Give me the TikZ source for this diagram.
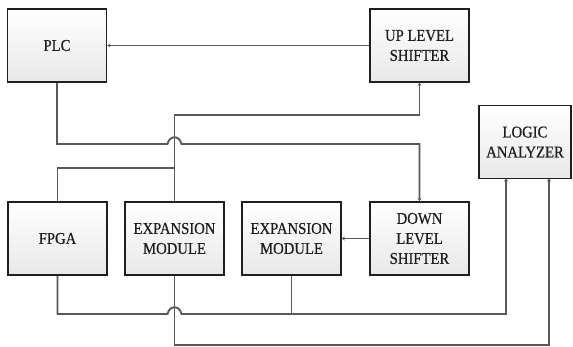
\documentclass[tikz,border=0pt]{standalone}
\usepackage{fontspec}
\newfontfamily\boxfont[FakeStretch=0.89,FakeBold=0.6]{Liberation Serif}
\usetikzlibrary{arrows.meta,calc}
\begin{document}
\begin{tikzpicture}[x=1pt,y=-1pt,
  blk/.style={draw=black!88,line width=1.7pt,top color=white,bottom color=black!9,
    minimum width=99pt,minimum height=73pt,inner sep=0pt,align=center,
    font=\boxfont\fontsize{16.5}{20}\selectfont,text=black!88},
  wire/.style={draw=black!65,line width=1.9pt},
  arr/.style={wire,-{Stealth[length=3pt,width=4pt]}}]
\useasboundingbox (0,0) rectangle (573,347);
\node[blk] (plc)  at (57,45.5)    {PLC};
\node[blk] (up)   at (419.5,45.5) {UP LEVEL\\SHIFTER};
\node[blk,minimum width=92pt] (la) at (525,142) {LOGIC\\ANALYZER};
\node[blk] (fpga) at (57.5,238.5) {FPGA};
\node[blk] (exp1) at (174.5,238.5) {EXPANSION\\MODULE};
\node[blk] (exp2) at (291.5,238.5) {EXPANSION\\MODULE};
\node[blk] (down) at (419.5,238.5) {DOWN\\LEVEL\\SHIFTER};
% UP LEVEL SHIFTER -> PLC
\draw[arr] (up.west) -- (plc.east);
% PLC -> DOWN LEVEL SHIFTER, jumping over the EXPANSION MODULE line
\coordinate (j1) at (174.5,144);
\draw[arr] (plc.south) |- ($(j1)+(-7,0)$) .. controls ($(j1)+(-5,-9)$) and ($(j1)+(5,-9)$) .. ($(j1)+(7,0)$) -| (down.north);
% EXPANSION MODULE / FPGA -> UP LEVEL SHIFTER
\coordinate (t1) at (174.5,115);
\draw[arr] (exp1.north) -- (t1) -| (up.south);
\coordinate (t2) at (174.5,168);
\draw[wire] (fpga.north) |- (t2);
% DOWN LEVEL SHIFTER -> EXPANSION MODULE
\draw[arr] (down.west) -- (exp2.east);
% FPGA / EXPANSION MODULE -> LOGIC ANALYZER
\coordinate (j2) at (174.5,314);
\coordinate (la1) at (506,178.5);
\coordinate (la2) at (549,178.5);
\draw[arr] (fpga.south) |- ($(j2)+(-7,0)$) .. controls ($(j2)+(-5,-9)$) and ($(j2)+(5,-9)$) .. ($(j2)+(7,0)$) -| (la1);
\draw[wire] (exp2.south) |- ($(j2)+(90,0)$);
\coordinate (b1) at (174.5,345);
\draw[arr] (exp1.south) -- (b1) -| (la2);
\end{tikzpicture}
\end{document}
